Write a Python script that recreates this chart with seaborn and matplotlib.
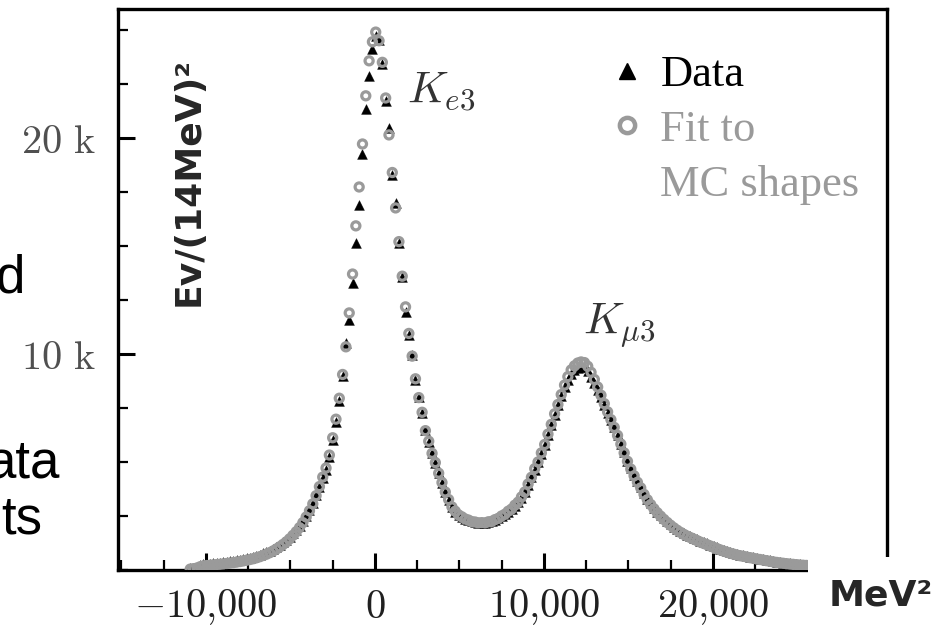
import numpy as np
import matplotlib
matplotlib.use("Agg")
import matplotlib.pyplot as plt
import seaborn as sns
from matplotlib.lines import Line2D
from matplotlib.patches import Rectangle
from matplotlib.ticker import FixedLocator, MultipleLocator, FuncFormatter

# histogram bins of (14 MeV)^2 = 196 MeV^2, first bin centre
BIN_WIDTH = 196
FIRST_BIN = -10926

# events per bin (black triangles)
data_counts = [
    80, 100, 150, 230, 255, 270, 285, 300, 315, 335,
    355, 375, 395, 420, 445, 470, 505, 540, 575, 615,
    660, 710, 770, 830, 900, 980, 1070, 1170, 1280, 1400,
    1540, 1690, 1850, 2030, 2250, 2500, 2780, 3080, 3450, 3850,
    4260, 4630, 5230, 6020, 6850, 7800, 9000, 10510, 11575, 13290,
    15140, 16900, 19260, 21340, 22870, 24120, 24700, 24540, 23400, 21700,
    20460, 18300, 17000, 15140, 13570, 11950, 10880, 9950, 8800, 8010,
    7270, 6480, 5940, 5420, 4950, 4490, 4030, 3625, 3240, 2930,
    2700, 2560, 2450, 2370, 2300, 2250, 2210, 2190, 2180, 2190,
    2220, 2260, 2320, 2400, 2490, 2590, 2700, 2830, 2980, 3150,
    3350, 3620, 3950, 4300, 4650, 5000, 5380, 5800, 6250, 6720,
    7180, 7620, 8050, 8450, 8800, 9080, 9260, 9370, 9400, 9380,
    9220, 8950, 8650, 8350, 8000, 7630, 7280, 6950, 6600, 6250,
    5850, 5450, 5050, 4700, 4400, 4100, 3850, 3550, 3300, 3080,
    2880, 2700, 2540, 2400, 2260, 2130, 2010, 1900, 1800, 1710,
    1630, 1560, 1490, 1420, 1350, 1290, 1230, 1170, 1110, 1050,
    990, 930, 880, 830, 790, 750, 710, 680, 650, 620,
    590, 560, 530, 500, 470, 440, 410, 385, 360, 340,
    320, 300, 285, 270, 255, 245, 235, 225, 215,
]

# fit to MC shapes (grey circles)
fit_counts = [
    40, 60, 90, 150, 190, 205, 220, 235, 250, 265,
    280, 300, 320, 340, 365, 390, 420, 450, 485, 520,
    565, 615, 670, 730, 800, 880, 970, 1070, 1180, 1300,
    1440, 1600, 1770, 1960, 2190, 2450, 2740, 3060, 3440, 3860,
    4300, 4720, 5320, 6120, 6980, 7950, 9050, 10330, 11900, 13700,
    15930, 17730, 19720, 21950, 23570, 24450, 24900, 24500, 23500, 21850,
    20140, 18400, 16760, 15200, 13600, 12180, 10950, 9900, 8850, 7980,
    7300, 6450, 5960, 5400, 4970, 4480, 4050, 3610, 3260, 2920,
    2720, 2550, 2460, 2360, 2310, 2240, 2220, 2180, 2190, 2180,
    2230, 2250, 2330, 2390, 2500, 2580, 2720, 2820, 3000, 3140,
    3380, 3610, 3980, 4290, 4690, 5000, 5420, 5810, 6290, 6740,
    7230, 7660, 8120, 8560, 8950, 9260, 9450, 9580, 9630, 9600,
    9430, 9150, 8820, 8470, 8090, 7700, 7320, 6960, 6600, 6230,
    5830, 5420, 5030, 4670, 4360, 4060, 3800, 3500, 3250, 3030,
    2830, 2650, 2490, 2340, 2200, 2070, 1950, 1840, 1740, 1650,
    1570, 1500, 1430, 1360, 1290, 1230, 1170, 1110, 1050, 990,
    930, 875, 825, 775, 735, 695, 660, 630, 600, 570,
    540, 510, 485, 455, 430, 400, 375, 350, 330, 310,
    290, 275, 260, 245, 230, 220, 210, 200, 190,
]

x_ticks = [-10000, 0, 10000, 20000]
y_ticks = [10000, 20000]
legend_labels = ["Data", "Fit to", "MC shapes"]
peak_labels = [r"$K_{e3}$", r"$K_{\mu3}$"]
slide_fragments = ["d", "ata", "ts"]

assert len(data_counts) == len(fit_counts)
mass2 = FIRST_BIN + BIN_WIDTH * np.arange(len(data_counts))

GREY = "#9a9a9a"

sns.set_theme(style="white")
plt.rcParams["mathtext.fontset"] = "cm"
plt.rcParams["font.family"] = ["DejaVu Sans"]

fig = plt.figure(figsize=(9.47, 6.28), dpi=100)
ax = fig.add_axes([0.1246, 0.0924, 0.812, 0.8933])

sns.scatterplot(x=mass2, y=data_counts, marker="^", s=50, color="black",
                edgecolor="black", linewidth=0.3, ax=ax, legend=False, zorder=2)
sns.scatterplot(x=mass2, y=fit_counts, marker="o", s=34, color=GREY,
                edgecolor=GREY, linewidth=2.3, ax=ax, legend=False, zorder=3)
ax.collections[-1].set_facecolor("none")

ax.set_xlim(-15200, 30300)
ax.set_ylim(0, 25970)

ax.xaxis.set_major_locator(FixedLocator(x_ticks))
ax.xaxis.set_minor_locator(MultipleLocator(2500))
ax.yaxis.set_major_locator(FixedLocator(y_ticks))
ax.yaxis.set_minor_locator(MultipleLocator(2500))


def fmt_x(v, _):
    s = f"{abs(v):,.0f}".replace(",", "{,}")
    return f"$-{s}$" if v < 0 else f"${s}$"


def fmt_y(v, _):
    return rf"${int(v / 1000)}\ \mathrm{{k}}$"


ax.xaxis.set_major_formatter(FuncFormatter(fmt_x))
ax.yaxis.set_major_formatter(FuncFormatter(fmt_y))
ax.tick_params(which="both", direction="in", top=False, right=False,
               bottom=True, left=True, color="black")
ax.tick_params(which="major", length=12, width=2.2, labelsize=29)
ax.tick_params(which="minor", length=7, width=1.6)
ax.tick_params(axis="x", which="major", pad=12, labelcolor="#202020")
ax.tick_params(axis="y", which="major", pad=16, labelcolor="#505050")
ax.set_axisbelow(True)
for sp in ax.spines.values():
    sp.set_linewidth(2.4)
    sp.set_color("black")
ax.set_xlabel("")
ax.set_ylabel("")

# peak names
ax.text(0.376, 0.832, peak_labels[0], transform=ax.transAxes, fontsize=32,
        color="#333333", ha="left", va="baseline")
ax.text(0.605, 0.419, peak_labels[1], transform=ax.transAxes, fontsize=32,
        color="#333333", ha="left", va="baseline")

# legend
handles = [
    Line2D([], [], ls="none", marker="^", ms=12, color="black"),
    Line2D([], [], ls="none", marker="o", ms=11, mfc="none", mec=GREY, mew=3.2),
    Line2D([], [], ls="none"),
]
leg = ax.legend(handles, legend_labels, loc="upper left", bbox_to_anchor=(0.633, 0.918),
                frameon=False, borderpad=0, borderaxespad=0, handlelength=1.0,
                handletextpad=0.25, labelspacing=0.33,
                prop={"family": "Liberation Serif", "size": 32})
for t, c in zip(leg.get_texts(), ["black", GREY, GREY]):
    t.set_color(c)

# white patch over the lower right corner, with the unit on it
fig.add_artist(Rectangle((808 / 947, 0), 1, (628 - 557) / 628, transform=fig.transFigure,
                         facecolor="white", edgecolor="none", zorder=5))
fig.text(881 / 947, 1 - 596 / 628, "MeV²", ha="center", va="center", fontsize=26,
         fontweight="bold", family="DejaVu Sans", zorder=6)

# y label written inside the frame
fig.text(189 / 947, 1 - 181 / 628, "Ev/(14MeV)²", rotation=90, ha="center", va="center",
         fontsize=26, fontweight="bold", family="DejaVu Sans", zorder=6)

# cut-off slide text on the left
for txt, xr, yb in zip(slide_fragments, [25, 60, 42], [293, 477, 533]):
    fig.text(xr / 947, 1 - yb / 628, txt, ha="right", va="baseline", fontsize=38,
             family="Liberation Sans", color="black")

fig.savefig("out.png", dpi=100)
